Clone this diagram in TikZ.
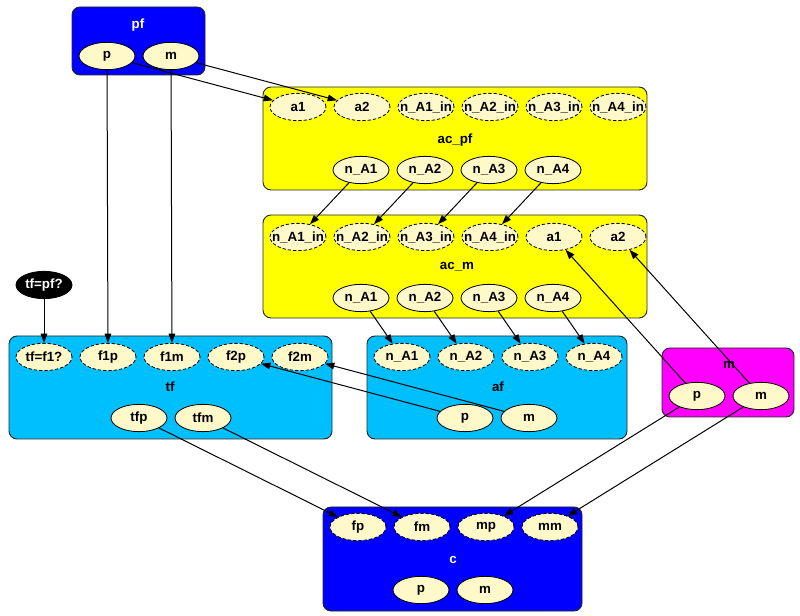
\documentclass[tikz,border=0pt]{standalone}
\usepackage{fontspec}
\setmainfont{Liberation Sans}
\usetikzlibrary{arrows.meta,positioning,fit,shapes.geometric}
\definecolor{cream}{HTML}{FFF8C8}
\definecolor{gvblue}{HTML}{0000FF}
\definecolor{gvyel}{HTML}{FFFF00}
\definecolor{gvsky}{HTML}{00BFFF}
\definecolor{gvmag}{HTML}{FF00FF}

\begin{document}
\begin{tikzpicture}[x=0.75pt,y=-0.75pt,node distance=5.4pt,
  font=\bfseries\fontsize{10pt}{12pt}\selectfont,
  grp/.style={draw=black!85,line width=0.7pt,rounded corners=6pt,inner sep=0pt},
  var/.style={ellipse,draw,line width=0.6pt,fill=cream,minimum width=42pt,minimum height=20.5pt,inner xsep=-6pt,inner ysep=0pt},
  port/.style={var,dash pattern=on 2.5pt off 1.5pt},
  ar/.style={-{Triangle[length=7pt,width=5pt]},line width=0.75pt}]
\useasboundingbox (0,0) rectangle (800,616);
% clusters
\node[grp,fill=gvblue,fit={(72,7) (205,75)}] (pf) {};
\node[grp,fill=gvyel,fit={(263,87) (647,190)}] (acpf) {};
\node[grp,fill=gvyel,fit={(263,215) (647,318)}] (acm) {};
\node[grp,fill=gvsky,fit={(9,336) (332,439)}] (tf) {};
\node[grp,fill=gvsky,fit={(367,336) (627,439)}] (af) {};
\node[grp,fill=gvmag,fit={(662,348) (794,417)}] (mb) {};
\node[grp,fill=gvblue,fit={(323,507) (582,611)}] (c) {};
\node[white] (pflbl) at (138,25) {pf};
\node (acpflbl) at (455,140) {ac\_pf};
\node (acmlbl) at (457,267) {ac\_m};
\node (tflbl) at (170,387) {tf};
\node (aflbl) at (498,387) {af};
\node (mlbl) at (729,365) {m};
\node[white] (clbl) at (453,560) {c};
% pf
\node[var] (pfp) at (107,56) {p};
\node[var,right=of pfp] (pfm) {m};
% ac_pf
\node[port] (apa1) at (298,107) {a1};
\node[port,right=of apa1] (apa2) {a2};
\node[port,right=of apa2] (apin1) {n\_A1\_in};
\node[port,right=of apin1] (apin2) {n\_A2\_in};
\node[port,right=of apin2] (apin3) {n\_A3\_in};
\node[port,right=of apin3] (apin4) {n\_A4\_in};
\node[var] (apn1) at (361,170) {n\_A1};
\node[var,right=of apn1] (apn2) {n\_A2};
\node[var,right=of apn2] (apn3) {n\_A3};
\node[var,right=of apn3] (apn4) {n\_A4};
% ac_m
\node[port] (amin1) at (298,237) {n\_A1\_in};
\node[port,right=of amin1] (amin2) {n\_A2\_in};
\node[port,right=of amin2] (amin3) {n\_A3\_in};
\node[port,right=of amin3] (amin4) {n\_A4\_in};
\node[port,right=of amin4] (ama1) {a1};
\node[port,right=of ama1] (ama2) {a2};
\node[var] (amn1) at (361,298) {n\_A1};
\node[var,right=of amn1] (amn2) {n\_A2};
\node[var,right=of amn2] (amn3) {n\_A3};
\node[var,right=of amn3] (amn4) {n\_A4};
% tf
\node[var,fill=black,text=white] (tfpf) at (44,285) {tf=pf?};
\node[port] (tfq) at (44,357) {tf=f1?};
\node[port,right=of tfq] (tff1p) {f1p};
\node[port,right=of tff1p] (tff1m) {f1m};
\node[port,right=of tff1m] (tff2p) {f2p};
\node[port,right=of tff2p] (tff2m) {f2m};
\node[var] (tfp) at (139,418) {tfp};
\node[var,right=of tfp] (tfm) {tfm};
% af
\node[port] (afn1) at (402,357) {n\_A1};
\node[port,right=of afn1] (afn2) {n\_A2};
\node[port,right=of afn2] (afn3) {n\_A3};
\node[port,right=of afn3] (afn4) {n\_A4};
\node[var] (afp) at (465,418) {p};
\node[var,right=of afp] (afm) {m};
% m
\node[var] (mp) at (697,396) {p};
\node[var,right=of mp] (mm) {m};
% c
\node[port] (cfp) at (358,527) {fp};
\node[port,right=of cfp] (cfm) {fm};
\node[port,right=of cfm] (cmp) {mp};
\node[port,right=of cmp] (cmm) {mm};
\node[var] (cp) at (421,590) {p};
\node[var,right=of cp] (cm) {m};
% edges
\draw[ar] (pfp)--(apa1);
\draw[ar] (pfm)--(apa2);
\draw[ar] (pfp)--(tff1p);
\draw[ar] (pfm)--(tff1m);
\draw[ar] (tfpf)--(tfq);
\draw[ar] (apn1)--(amin1);
\draw[ar] (apn2)--(amin2);
\draw[ar] (apn3)--(amin3);
\draw[ar] (apn4)--(amin4);
\draw[ar] (amn1)--(afn1);
\draw[ar] (amn2)--(afn2);
\draw[ar] (amn3)--(afn3);
\draw[ar] (amn4)--(afn4);
\draw[ar] (mp)--(ama1);
\draw[ar] (mm)--(ama2);
\draw[ar] (afp)--(tff2p);
\draw[ar] (afm)--(tff2m);
\draw[ar] (tfp)--(cfp);
\draw[ar] (tfm)--(cfm);
\draw[ar] (mp)--(cmp);
\draw[ar] (mm)--(cmm);
\end{tikzpicture}
\end{document}
